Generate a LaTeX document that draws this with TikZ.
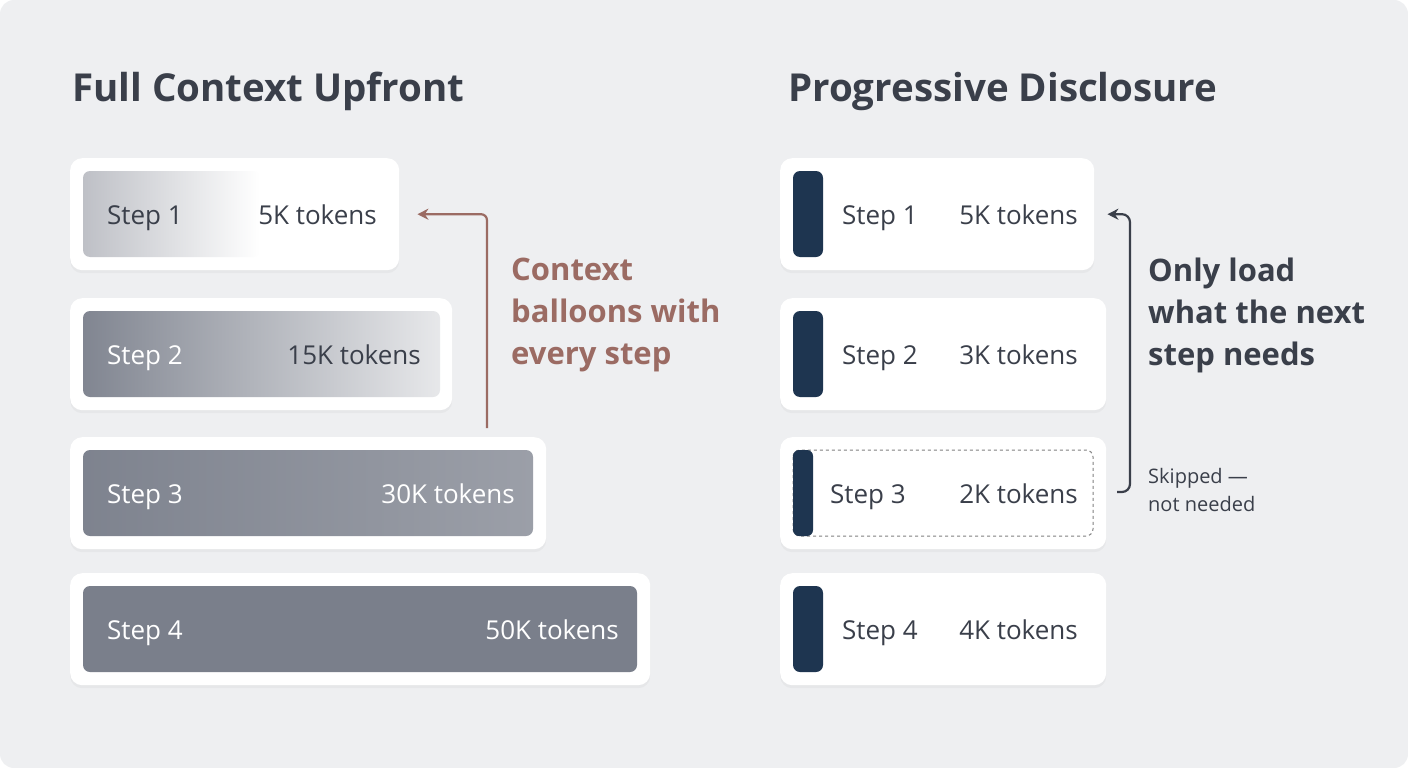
\documentclass[tikz,border=0pt]{standalone}
\usepackage{fontspec}
\setmainfont{Open Sans}
\usetikzlibrary{positioning,arrows.meta,shadows}
\definecolor{bgc}{HTML}{EEEFF1}
\definecolor{ink}{HTML}{3A3F4A}
\definecolor{rust}{HTML}{9B6B63}
\definecolor{navy}{HTML}{1E3550}
\definecolor{gdark}{HTML}{7A7F8B}
\definecolor{glite}{HTML}{BEC0C6}
\tikzset{
  card/.style={draw=none,fill=white,rounded corners=12pt,anchor=north west,
    minimum height=112pt,inner sep=0pt,
    drop shadow={opacity=0.07,shadow xshift=0pt,shadow yshift=-3pt}},
  bar/.style={rounded corners=7pt},
  lbl/.style={font=\fontsize{26}{30}\selectfont,inner sep=0pt},
  ttl/.style={font=\bfseries\fontsize{38.5}{42}\selectfont,text=ink,anchor=west,inner sep=0pt},
  note/.style={font=\bfseries\fontsize{31}{42}\selectfont,anchor=north west,align=left,inner sep=0pt},
}
\begin{document}
\begin{tikzpicture}[x=1pt,y=-1pt]
\useasboundingbox (0,0) rectangle (1408,768);
\fill[bgc,rounded corners=14pt] (0,0) rectangle (1408,768);
% titles
\node[ttl] (tl) at (72,91) {Full Context Upfront};
\node[ttl] (tr) at (788,91) {Progressive Disclosure};
% left column
\node[card,minimum width=329pt] (l1) at (70,158) {};
\node[card,minimum width=382pt] (l2) at (70,298) {};
\node[card,minimum width=476pt] (l3) at (70,437) {};
\node[card,minimum width=580pt] (l4) at (70,573) {};
\shade[bar,left color=glite,right color=white] (83,171) rectangle (260,257);
\fill[white] (260,171) rectangle (387,257);
\shade[bar,left color=gdark!95!white,right color=gdark!18!white] (83,311) rectangle (440,397);
\shade[bar,left color=gdark!97!white,right color=gdark!75!white] (83,450) rectangle (533,536);
\fill[bar,gdark] (83,586) rectangle (637,672);
\node[lbl,text=ink,anchor=base west] (s1) at (107,224) {Step 1};
\node[lbl,text=ink,anchor=base east] (k1) at (377,224) {5K tokens};
\node[lbl,text=white,anchor=base west] (s2) at (107,364) {Step 2};
\node[lbl,text=ink,anchor=base east] (k2) at (421,364) {15K tokens};
\node[lbl,text=white,anchor=base west] (s3) at (107,503) {Step 3};
\node[lbl,text=white,anchor=base east] (k3) at (515,503) {30K tokens};
\node[lbl,text=white,anchor=base west] (s4) at (107,639) {Step 4};
\node[lbl,text=white,anchor=base east] (k4) at (619,639) {50K tokens};
\coordinate (la) at (487,428);
\draw[rust,line width=2.2pt,rounded corners=6pt,-{Stealth[length=11pt,width=11pt]}]
  (la) |- ([xshift=18pt]l1.east);
\node[note,text=rust] (ln) at (511,258) {Context\\balloons with\\every step};
% right column
\node[card,minimum width=314pt] (r1) at (780,158) {};
\node[card,minimum width=326pt] (r2) at (780,298) {};
\node[card,minimum width=326pt] (r3) at (780,437) {};
\node[card,minimum width=326pt] (r4) at (780,573) {};
\foreach \y in {171,311,586}
  \fill[navy,rounded corners=7pt] (793,\y) rectangle (823,\y+86);
\draw[gray,dashed,line width=1pt,rounded corners=7pt] (793,450) rectangle (1093,536);
\fill[navy,rounded corners=6pt] (793,450) rectangle (813,536);
\node[lbl,text=ink,anchor=base west] (t1) at (842,224) {Step 1};
\node[lbl,text=ink,anchor=base east] (m1) at (1078,224) {5K tokens};
\node[lbl,text=ink,anchor=base west] (t2) at (842,364) {Step 2};
\node[lbl,text=ink,anchor=base east] (m2) at (1078,364) {3K tokens};
\node[lbl,text=ink,anchor=base west] (t3) at (830,503) {Step 3};
\node[lbl,text=ink,anchor=base east] (m3) at (1078,503) {2K tokens};
\node[lbl,text=ink,anchor=base west] (t4) at (842,639) {Step 4};
\node[lbl,text=ink,anchor=base east] (m4) at (1078,639) {4K tokens};
\coordinate (ra) at (1117,492);
\draw[ink,line width=2.2pt,rounded corners=8pt,-{Stealth[length=11pt,width=11pt]}]
  (ra) -- (1130,492) |- ([xshift=13pt]r1.east);
\node[note,text=ink] (rn) at (1148,258) {Only load\\what the next\\step needs};
\node[anchor=north west,align=left,inner sep=0pt,text=ink,font=\fontsize{20}{28}\selectfont] (sk) at (1148,468) {Skipped —\\not needed};
\end{tikzpicture}
\end{document}
